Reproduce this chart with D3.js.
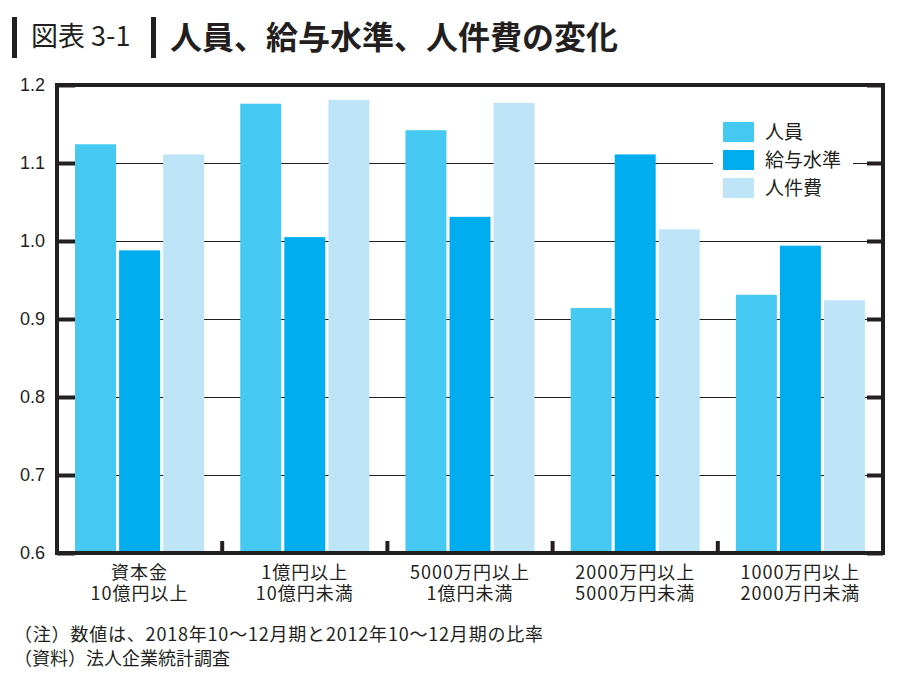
<!doctype html>
<html>

<head>
    <meta charset="UTF-8">
    <title>人員、給与水準、人件費の変化</title>
    <script src="https://d3js.org/d3.v7.min.js"></script>
    <style>
        body { margin: 0; background: #fff; }
        text { font-family: "Noto Sans CJK JP", "Noto Sans", sans-serif; fill: #231f20; }
    </style>
</head>

<body>
    <script>
        // data
        var groups = ["資本金\n10億円以上", "1億円以上\n10億円未満", "5000万円以上\n1億円未満",
            "2000万円以上\n5000万円未満", "1000万円以上\n2000万円未満"];
        var seriesNames = ["人員", "給与水準", "人件費"];
        var jinin = [1.124, 1.176, 1.142, 0.914, 0.931];
        var kyuyo = [0.988, 1.005, 1.031, 1.111, 0.994];
        var jinkenhi = [1.111, 1.181, 1.177, 1.015, 0.924];
        var yTicks = [0.6, 0.7, 0.8, 0.9, 1.0, 1.1, 1.2];
        var colors = ["#45c8f1", "#00aeef", "#bde5f7"];
        var notes = ["（注）数値は、2018年10～12月期と2012年10～12月期の比率", "（資料）法人企業統計調査"];

        var w = 907, h = 681;
        var pLeft = 57, pRight = 883, pTop = 85, pBottom = 553;
        var ink = "#231f20";

        var svg = d3.select("body").append("svg")
            .attr("width", w)
            .attr("height", h);

        // title
        svg.append("rect").attr("x", 12).attr("y", 17).attr("width", 5).attr("height", 41).attr("fill", ink);
        svg.append("text").attr("x", 31).attr("y", 46).attr("font-size", 27).text("図表 3-1");
        svg.append("rect").attr("x", 151).attr("y", 17).attr("width", 5).attr("height", 41).attr("fill", ink);
        svg.append("text").attr("x", 170).attr("y", 49).attr("font-size", 32).attr("font-weight", "bold")
            .text("人員、給与水準、人件費の変化");

        var x0 = d3.scaleBand().domain(groups).range([pLeft, pRight]);
        var x1 = d3.scaleBand().domain(seriesNames).range([0, x0.bandwidth()])
            .paddingInner(0.07).paddingOuter(0.41);
        var y = d3.scaleLinear().domain([0.6, 1.2]).range([pBottom, pTop]);

        var data = groups.map(function (g, i) {
            return [jinin[i], kyuyo[i], jinkenhi[i]].map(function (v, j) {
                return { group: g, name: seriesNames[j], value: v, color: colors[j] };
            });
        });

        // gridlines
        var grid = svg.append("g").attr("transform", "translate(" + pLeft + ",0)")
            .call(d3.axisLeft(y).tickValues(yTicks).tickSize(-(pRight - pLeft)).tickFormat(""));
        grid.select(".domain").remove();
        grid.selectAll("line").attr("stroke", ink).attr("stroke-width", 1.2);

        // legend background breaks the grid
        svg.append("rect").attr("x", 713).attr("y", 112).attr("width", 140).attr("height", 94).attr("fill", "#fff");

        // bars
        svg.append("g").selectAll("g")
            .data(data)
            .join("g")
            .attr("transform", function (d) { return "translate(" + x0(d[0].group) + ",0)"; })
            .selectAll("rect")
            .data(function (d) { return d; })
            .join("rect")
            .attr("x", function (d) { return x1(d.name); })
            .attr("y", function (d) { return y(d.value); })
            .attr("width", x1.bandwidth())
            .attr("height", function (d) { return pBottom - y(d.value); })
            .attr("fill", function (d) { return d.color; });

        // left axis: thick inward ticks + labels
        var yl = svg.append("g").attr("transform", "translate(" + pLeft + ",0)")
            .call(d3.axisLeft(y).tickValues(yTicks).tickSizeInner(-18).tickSizeOuter(0).tickPadding(12)
                .tickFormat(d3.format(".1f")));
        yl.select(".domain").remove();
        yl.selectAll("line").attr("stroke", ink).attr("stroke-width", 4);
        yl.selectAll("text").attr("font-size", 18).style("font-family", "'Liberation Sans', Arial, sans-serif")
            .attr("fill", ink);

        // right axis ticks
        var yr = svg.append("g").attr("transform", "translate(" + pRight + ",0)")
            .call(d3.axisRight(y).tickValues(yTicks).tickSizeInner(-16).tickSizeOuter(0).tickFormat(""));
        yr.select(".domain").remove();
        yr.selectAll("line").attr("stroke", ink).attr("stroke-width", 4);

        // x ticks between groups
        svg.append("g").selectAll("line")
            .data(groups.slice(1))
            .join("line")
            .attr("x1", function (d) { return x0(d); })
            .attr("x2", function (d) { return x0(d); })
            .attr("y1", pBottom)
            .attr("y2", pBottom - 12)
            .attr("stroke", ink)
            .attr("stroke-width", 4);

        // frame
        svg.append("rect").attr("x", pLeft).attr("y", pTop)
            .attr("width", pRight - pLeft).attr("height", pBottom - pTop)
            .attr("fill", "none").attr("stroke", ink).attr("stroke-width", 4);

        // x labels
        var xl = svg.append("g").selectAll("text")
            .data(groups)
            .join("text")
            .attr("text-anchor", "middle")
            .attr("letter-spacing", 1)
            .attr("font-size", 18);
        xl.selectAll("tspan")
            .data(function (d) { return d.split("\n").map(function (s) { return { s: s, g: d }; }); })
            .join("tspan")
            .attr("x", function (d) { return x0(d.g) + x0.bandwidth() / 2; })
            .attr("y", function (d, i) { return 579 + i * 21; })
            .text(function (d) { return d.s; });

        // legend
        var lg = svg.append("g").selectAll("g")
            .data(seriesNames)
            .join("g")
            .attr("transform", function (d, i) { return "translate(723," + (122 + i * 28) + ")"; });
        lg.append("rect").attr("width", 31).attr("height", 20)
            .attr("fill", function (d, i) { return colors[i]; });
        lg.append("text").attr("x", 42).attr("y", 17).attr("font-size", 19)
            .text(function (d) { return d; });

        // notes
        svg.append("g").selectAll("text")
            .data(notes)
            .join("text")
            .attr("x", 14)
            .attr("y", function (d, i) { return 641 + i * 24; })
            .attr("font-size", 18)
            .attr("letter-spacing", function (d, i) { return i === 0 ? 0.8 : 0; })
            .text(function (d) { return d; });
    </script>
</body>

</html>
